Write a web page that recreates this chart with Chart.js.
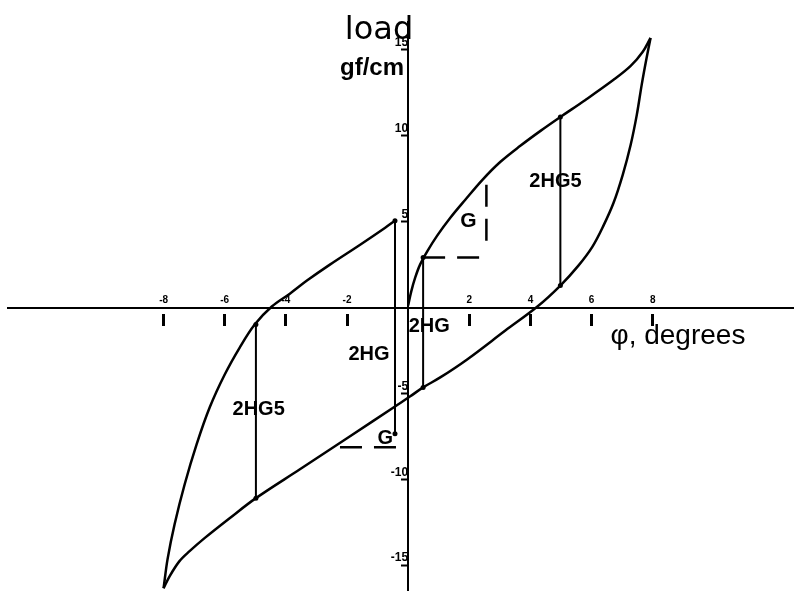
<!DOCTYPE html>
<html><head><meta charset="utf-8">
<script src="https://cdn.jsdelivr.net/npm/chart.js@4.4.1/dist/chart.umd.min.js"></script>
<style>html,body{margin:0;padding:0;background:#fff;overflow:hidden}canvas{display:block}</style>
</head><body>
<canvas id="c" width="797" height="594"></canvas>
<script>
// ---- data (degrees, gf/cm) ----
const xTickValues = [-8, -6, -4, -2, 2, 4, 6, 8];
const yTickValues = [-15, -10, -5, 5, 10, 15];

// upper right branch: origin -> top tip
const branchAx = [0.00, 0.10, 0.23, 0.39, 0.62, 0.95, 1.38, 1.87, 2.43, 3.02, 3.67, 4.33, 4.98, 5.80, 6.72, 7.28, 7.67, 7.93];
const branchAy = [0.12, 0.93, 1.74, 2.50, 3.26, 4.19, 5.23, 6.28, 7.44, 8.49, 9.42, 10.29, 11.10, 12.09, 13.26, 14.07, 14.88, 15.70];

// top tip -> down right side -> lower branch -> bottom tip
const branchBx = [7.93, 7.80, 7.64, 7.48, 7.28, 7.02, 6.72, 6.39, 6.03, 5.57, 4.98, 4.23, 3.18, 1.93, 1.05, 0.49, 0.07, -0.43, -1.90, -3.54, -4.98, -5.84, -6.66, -7.15, -7.48, -7.80, -8.00];
const branchBy = [15.70, 14.53, 12.97, 11.22, 9.48, 7.73, 6.10, 4.77, 3.55, 2.44, 1.28, 0.06, -1.34, -3.02, -4.07, -4.65, -5.17, -5.76, -7.50, -9.42, -11.10, -12.27, -13.43, -14.19, -14.77, -15.64, -16.35];

// bottom tip -> upper left branch
const branchCx = [-8.00, -7.87, -7.64, -7.31, -6.92, -6.49, -6.00, -5.51, -5.02, -4.46, -3.87, -3.31, -2.56, -1.57, -0.75, -0.43];
const branchCy = [-16.35, -14.65, -12.62, -10.29, -7.97, -5.81, -3.90, -2.33, -0.99, 0.06, 0.81, 1.57, 2.50, 3.66, 4.65, 5.06];

// vertical measurement lines
const measureX = [-0.43, 0.49, 4.98, -4.98];
const measureTop = [5.06, 2.91, 11.10, -0.99];
const measureBottom = [-7.35, -4.65, 1.28, -11.10];

// dashed G guides
const guide1x = [0.49, 2.43], guide1y = [2.91, 2.91];
const guide2x = [2.56, 2.56], guide2y = [7.15, 3.55];
const guide3x = [-2.23, -0.36], guide3y = [-8.14, -8.14];

// annotations
const annotationTexts = ['load', 'gf/cm', '2HG5', '2HG5', '2HG', '2HG', 'G', 'G', 'φ, degrees'];
const annotationX = [-2.07, -2.23, 4.82, -4.89, 0.69, -1.28, 1.97, -0.75, 6.62];
const annotationY = [15.62, 13.55, 7.03, -6.28, -1.40, -3.08, 4.71, -7.97, -2.15];

// ---- build ----
const pts = (xs, ys) => xs.map((x, i) => ({x, y: ys[i]}));
const curveStyle = {showLine: true, borderColor: '#000', borderWidth: 2.5, pointRadius: 0, tension: 0.35, fill: false, clip: false};
const datasets = [
  Object.assign({data: pts(branchAx, branchAy)}, curveStyle),
  Object.assign({data: pts(branchBx, branchBy)}, curveStyle),
  Object.assign({data: pts(branchCx, branchCy)}, curveStyle),
];
measureX.forEach((x, i) => datasets.push({
  data: [{x, y: measureTop[i]}, {x, y: measureBottom[i]}],
  showLine: true, borderColor: '#000', borderWidth: 2, tension: 0,
  pointRadius: 2.5, pointBackgroundColor: '#000', pointBorderWidth: 0
}));
[[guide1x, guide1y], [guide2x, guide2y], [guide3x, guide3y]].forEach(([gx, gy]) => datasets.push({
  data: pts(gx, gy), showLine: true, borderColor: '#000', borderWidth: 2.5,
  borderDash: [22, 12], pointRadius: 0, tension: 0
}));

const annotationFonts = ['32px "DejaVu Sans"', 'bold 24px "Liberation Sans"', 'bold 20px "Liberation Sans"', 'bold 20px "Liberation Sans"',
  'bold 20px "Liberation Sans"', 'bold 20px "Liberation Sans"', 'bold 21px "Liberation Sans"', 'bold 20px "Liberation Sans"', '28px "Liberation Sans"'];
const annotationAlign = ['left', 'left', 'center', 'center', 'center', 'center', 'center', 'center', 'left'];

const textPlugin = {
  id: 'texts',
  afterDraw(chart) {
    const {ctx, scales: {x, y}} = chart;
    ctx.save();
    ctx.fillStyle = '#000';
    ctx.textBaseline = 'alphabetic';
    annotationTexts.forEach((t, i) => {
      ctx.font = annotationFonts[i];
      ctx.textAlign = annotationAlign[i];
      ctx.fillText(t, x.getPixelForValue(annotationX[i]), y.getPixelForValue(annotationY[i]));
    });
    ctx.restore();
  }
};

new Chart(document.getElementById('c'), {
  type: 'scatter',
  data: {datasets},
  plugins: [textPlugin],
  options: {
    responsive: false,
    animation: false,
    layout: {padding: {left: 8, top: 22, right: 0, bottom: 0}},
    plugins: {legend: {display: false}, tooltip: {enabled: false}},
    scales: {
      x: {
        type: 'linear', min: -13.09, max: 12.59, position: {y: 0},
        afterBuildTicks: s => { s.ticks = xTickValues.map(v => ({value: v})); },
        border: {color: '#000', width: 2},
        grid: {drawOnChartArea: false, drawTicks: true, tickLength: 17, tickWidth: 3, tickColor: '#000', tickBorderDash: [0, 5, 12, 40]},
        ticks: {padding: -30, color: '#000', font: {size: 10, weight: 'bold', family: '"Liberation Sans"'}, maxRotation: 0, autoSkip: false}
      },
      y: {
        type: 'linear', min: -16.45, max: 16.63, position: {x: 0},
        afterBuildTicks: s => { s.ticks = yTickValues.map(v => ({value: v})); },
        border: {color: '#000', width: 2},
        grid: {drawOnChartArea: false, drawTicks: true, tickLength: 6, tickWidth: 2, tickColor: '#000'},
        ticks: {padding: -8, labelOffset: -7, color: '#000', font: {size: 12, weight: 'bold', family: '"Liberation Sans"'}, autoSkip: false}
      }
    }
  }
});
</script></body></html>
